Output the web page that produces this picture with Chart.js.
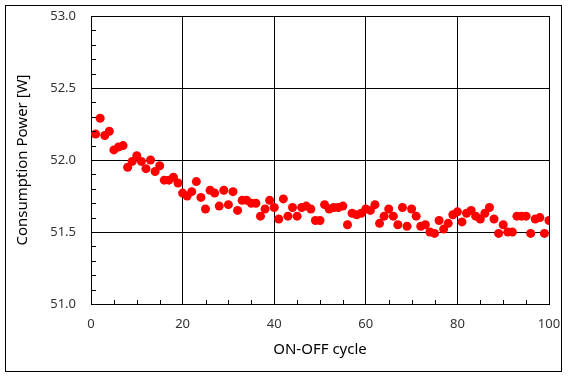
<!DOCTYPE html>
<html>
<head>
<meta charset="utf-8">
<script src="https://cdn.jsdelivr.net/npm/chart.js@4"></script>
<style>
html,body{margin:0;padding:0;background:#fff;}
#wrap{width:569px;height:379px;}
</style>
</head>
<body>
<div id="wrap"><canvas id="c" width="569" height="379"></canvas></div>
<script>
const cycles = [1,2,3,4,5,6,7,8,9,10,11,12,13,14,15,16,17,18,19,20,
21,22,23,24,25,26,27,28,29,30,31,32,33,34,35,36,37,38,39,40,
41,42,43,44,45,46,47,48,49,50,51,52,53,54,55,56,57,58,59,60,
61,62,63,64,65,66,67,68,69,70,71,72,73,74,75,76,77,78,79,80,
81,82,83,84,85,86,87,88,89,90,91,92,93,94,95,96,97,98,99,100];
const power = [52.18,52.29,52.17,52.20,52.07,52.09,52.10,51.95,51.99,52.03,
51.99,51.94,52.00,51.92,51.96,51.86,51.86,51.88,51.84,51.77,
51.75,51.78,51.85,51.74,51.66,51.79,51.77,51.68,51.79,51.69,
51.78,51.65,51.72,51.72,51.70,51.70,51.61,51.66,51.72,51.67,
51.59,51.73,51.61,51.67,51.61,51.67,51.68,51.66,51.58,51.58,
51.69,51.66,51.67,51.67,51.68,51.55,51.63,51.62,51.63,51.66,
51.65,51.69,51.56,51.61,51.66,51.61,51.55,51.67,51.54,51.66,
51.61,51.54,51.55,51.50,51.49,51.58,51.52,51.56,51.62,51.64,
51.57,51.63,51.65,51.61,51.59,51.63,51.67,51.59,51.49,51.55,
51.50,51.50,51.61,51.61,51.61,51.49,51.59,51.60,51.49,51.58];
const xTicks = [0,20,40,60,80,100];
const yTicks = [51.0,51.5,52.0,52.5,53.0];
const xMinor = [5,10,15,25,30,35,45,50,55,65,70,75,85,90,95];
const yMinor = [51.1,51.2,51.3,51.4,51.6,51.7,51.8,51.9,52.1,52.2,52.3,52.4,52.6,52.7,52.8,52.9];

const FONT = "'Noto Sans', 'Open Sans', sans-serif";

const extras = {
  id: 'extras',
  afterDraw(chart) {
    const ctx = chart.ctx;
    const xs = chart.scales.x, ys = chart.scales.y;
    const a = chart.chartArea;
    ctx.save();
    ctx.strokeStyle = '#000';
    ctx.lineWidth = 1;
    ctx.beginPath();
    xMinor.forEach(v => {
      const px = Math.round(xs.getPixelForValue(v)) + 0.5;
      ctx.moveTo(px, a.bottom);
      ctx.lineTo(px, a.bottom - 4);
    });
    yMinor.forEach(v => {
      const py = Math.round(ys.getPixelForValue(v)) + 0.5;
      ctx.moveTo(a.left, py);
      ctx.lineTo(a.left + 5, py);
    });
    ctx.stroke();
    ctx.strokeRect(5.5, 5.5, 556, 366);
    ctx.restore();
  }
};

new Chart(document.getElementById('c'), {
  type: 'scatter',
  data: {
    datasets: [{
      data: cycles.map((c, i) => ({x: c, y: power[i]})),
      backgroundColor: '#ff0000',
      borderColor: '#ff0000',
      borderWidth: 0,
      pointRadius: 4.5,
      pointHoverRadius: 4.5
    }]
  },
  options: {
    responsive: false,
    animation: false,
    devicePixelRatio: 1,
    layout: { padding: { left: 0, right: 20, top: 16, bottom: 0 } },
    plugins: { legend: { display: false }, tooltip: { enabled: false } },
    scales: {
      x: {
        type: 'linear', min: 0, max: 100,
        afterBuildTicks: s => { s.ticks = xTicks.map(v => ({value: v})); },
        afterFit: s => { s.height = 75; s.paddingLeft = 0; s.paddingRight = 0; },
        grid: { color: '#000', lineWidth: 1, drawTicks: false },
        border: { display: true, color: '#000', width: 1 },
        ticks: { padding: 12, color: '#333', font: { family: FONT, size: 13 }, maxRotation: 0, autoSkip: false },
        title: { display: true, text: 'ON-OFF cycle', color: '#000', font: { family: FONT, size: 15 }, padding: { top: 0, bottom: 20 } }
      },
      y: {
        type: 'linear', min: 51, max: 53,
        afterBuildTicks: s => { s.ticks = yTicks.map(v => ({value: v})); },
        afterFit: s => { s.width = 91; s.paddingTop = 0; s.paddingBottom = 0; },
        grid: { color: '#000', lineWidth: 1, drawTicks: false },
        border: { display: true, color: '#000', width: 1 },
        ticks: { padding: 15, color: '#333', font: { family: FONT, size: 13 }, callback: v => Number(v).toFixed(1), autoSkip: false },
        title: { display: true, text: 'Consumption Power [W]', color: '#000', font: { family: FONT, size: 15 }, padding: { top: 14, bottom: 0 } }
      }
    }
  },
  plugins: [extras]
});
</script>
</body>
</html>
